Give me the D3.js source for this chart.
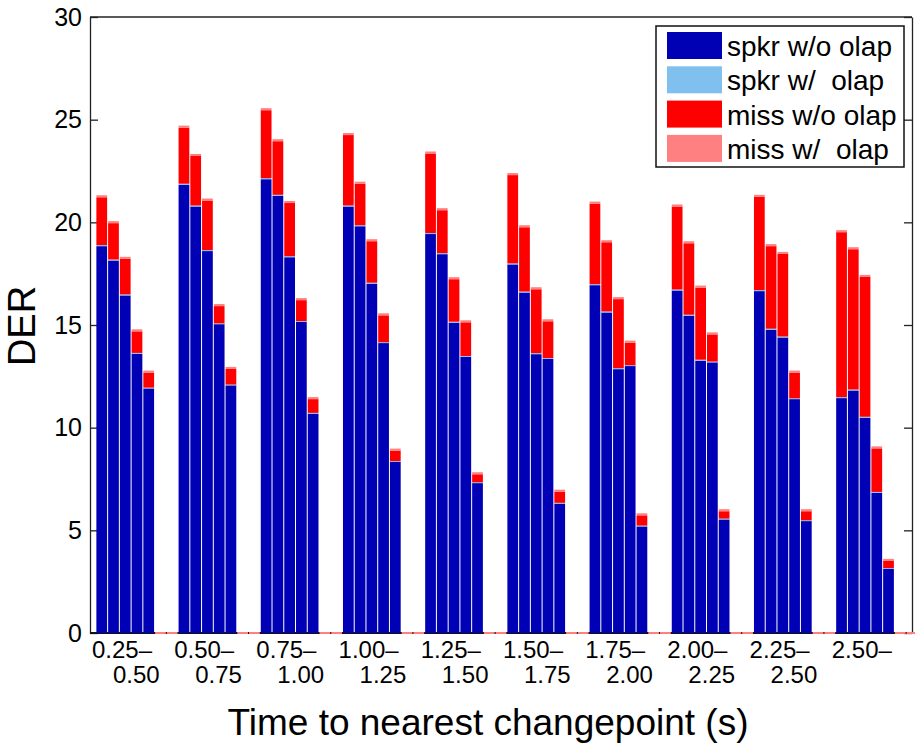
<!DOCTYPE html>
<html>
<head>
<meta charset="utf-8">
<script src="https://cdn.jsdelivr.net/npm/d3@7"></script>
<style>
  body { margin: 0; background: #fff; }
  svg text { font-family: "Liberation Sans", Arial, sans-serif; fill: #000; }
</style>
</head>
<body>
<div id="chart"></div>
<script>
// === Data ===
var groupLine1 = ["0.25–", "0.50–", "0.75–", "1.00–", "1.25–", "1.50–", "1.75–", "2.00–", "2.25–", "2.50–"];
var groupLine2 = ["0.50", "0.75", "1.00", "1.25", "1.50", "1.75", "2.00", "2.25", "2.50", ""];
var seriesNames = ["spkr w/o olap", "spkr w/  olap", "miss w/o olap", "miss w/  olap"];
var seriesColors = ["#0000b4", "#80c0ee", "#ff0000", "#ff8080"];

// one row per group, 5 bars each
var spkrNoOlap = [
    [18.84, 18.14, 16.44, 13.60, 11.91],
    [21.83, 20.77, 18.60, 15.04, 12.06],
    [22.10, 21.29, 18.30, 15.15, 10.68],
    [20.77, 19.81, 17.01, 14.12, 8.33],
    [19.43, 18.45, 15.11, 13.45, 7.30],
    [17.95, 16.58, 13.58, 13.35, 6.30],
    [16.94, 15.61, 12.85, 13.00, 5.19],
    [16.68, 15.45, 13.26, 13.18, 5.53],
    [16.65, 14.77, 14.39, 11.39, 5.45],
    [11.44, 11.81, 10.48, 6.83, 3.12]
];
var spkrOlap = [
    [0.05, 0.05, 0.05, 0.04, 0.04],
    [0.05, 0.05, 0.05, 0.04, 0.04],
    [0.05, 0.05, 0.05, 0.04, 0.04],
    [0.05, 0.05, 0.05, 0.04, 0.04],
    [0.05, 0.05, 0.05, 0.04, 0.04],
    [0.05, 0.05, 0.05, 0.04, 0.04],
    [0.05, 0.05, 0.05, 0.04, 0.04],
    [0.05, 0.05, 0.05, 0.04, 0.04],
    [0.05, 0.05, 0.05, 0.04, 0.04],
    [0.05, 0.05, 0.05, 0.04, 0.04]
];
var missNoOlap = [
    [2.33, 1.77, 1.73, 1.05, 0.73],
    [2.73, 2.41, 2.41, 0.84, 0.76],
    [3.31, 2.61, 2.59, 1.02, 0.67],
    [3.43, 2.02, 2.02, 1.31, 0.51],
    [3.87, 2.09, 2.07, 1.64, 0.39],
    [4.30, 3.13, 3.11, 1.79, 0.54],
    [3.92, 3.37, 3.36, 1.10, 0.50],
    [4.04, 3.48, 3.51, 1.32, 0.36],
    [4.54, 4.02, 4.02, 1.25, 0.44],
    [8.03, 6.83, 6.81, 2.12, 0.35]
];
var missOlap = [
    [0.10, 0.10, 0.10, 0.10, 0.10],
    [0.10, 0.10, 0.10, 0.10, 0.10],
    [0.10, 0.10, 0.10, 0.10, 0.10],
    [0.10, 0.10, 0.10, 0.10, 0.10],
    [0.10, 0.10, 0.10, 0.10, 0.10],
    [0.10, 0.10, 0.10, 0.10, 0.10],
    [0.10, 0.10, 0.10, 0.10, 0.10],
    [0.10, 0.10, 0.10, 0.10, 0.10],
    [0.10, 0.10, 0.10, 0.10, 0.10],
    [0.10, 0.10, 0.10, 0.10, 0.10]
];
var yTicks = [0, 5, 10, 15, 20, 25, 30];
var slotsPerGroup = 7;   // 5 bars + 2 empty slots

// === Build slot table (empty slots are zero bars) ===
var slots = [];
groupLine1.forEach(function (g, gi) {
    for (var b = 0; b < slotsPerGroup; b++) {
        var vals = b < 5
            ? [spkrNoOlap[gi][b], spkrOlap[gi][b], missNoOlap[gi][b], missOlap[gi][b]]
            : [0, 0, 0, 0];
        slots.push({ slot: gi * slotsPerGroup + b, values: vals });
    }
});

// === Chart ===
var W = 915, H = 745;
var plotL = 90, plotR = 912, plotT = 17, plotB = 633;

var svg = d3.select("#chart").append("svg")
    .attr("width", W)
    .attr("height", H);

var x = d3.scaleLinear().domain([-1, slots.length - 1]).range([plotL, plotR]);
var y = d3.scaleLinear().domain([0, 30]).range([plotB, plotT]);
var slotW = x(1) - x(0);

// axes
svg.append("g")
    .attr("transform", "translate(" + plotL + ",0)")
    .call(d3.axisLeft(y).tickValues(yTicks).tickSize(-8).tickSizeOuter(0).tickPadding(8))
    .call(function (g) {
        g.selectAll("text").style("font-size", "25px").attr("fill", "#000");
        g.selectAll("line, path").attr("stroke", "#222").attr("stroke-width", 1.3);
    });
svg.append("g")
    .attr("transform", "translate(" + plotR + ",0)")
    .call(d3.axisRight(y).tickValues(yTicks).tickSize(-8).tickSizeOuter(0).tickFormat(""))
    .call(function (g) {
        g.selectAll("line, path").attr("stroke", "#222").attr("stroke-width", 1.3);
    });
svg.append("line")
    .attr("x1", plotL).attr("x2", plotR).attr("y1", plotT).attr("y2", plotT)
    .attr("stroke", "#222").attr("stroke-width", 1.3);
svg.append("line")
    .attr("x1", plotL).attr("x2", plotR).attr("y1", plotB).attr("y2", plotB)
    .attr("stroke", "#111").attr("stroke-width", 2);

// stacked bars
var barG = svg.append("g");
slots.forEach(function (s) {
    var x0 = x(s.slot) - slotW / 2 + 0.5;
    var total = d3.sum(s.values);
    if (total === 0) {
        // zero-height bar: only its pink edge shows on the baseline
        barG.append("rect")
            .attr("x", x0).attr("width", slotW - 1)
            .attr("y", y(0) - 1).attr("height", 2)
            .attr("fill", seriesColors[3]);
        return;
    }
    var acc = 0;
    s.values.forEach(function (v, k) {
        barG.append("rect")
            .attr("x", x0)
            .attr("width", slotW - 1)
            .attr("y", y(acc + v))
            .attr("height", y(acc) - y(acc + v))
            .attr("fill", seriesColors[k]);
        acc += v;
    });
});

// x tick labels (two lines per group)
groupLine1.forEach(function (t, gi) {
    var cx = x(gi * slotsPerGroup + 3);
    svg.append("text")
        .attr("x", cx - 45).attr("y", 658)
        .style("font-size", "24px")
        .text(t);
    svg.append("text")
        .attr("x", cx - 24).attr("y", 683)
        .style("font-size", "24px")
        .text(groupLine2[gi]);
});

// axis titles
svg.append("text")
    .attr("x", 488).attr("y", 735)
    .attr("text-anchor", "middle")
    .style("font-size", "37px")
    .text("Time to nearest changepoint (s)");
svg.append("text")
    .attr("transform", "translate(35,326) rotate(-90)")
    .attr("text-anchor", "middle")
    .style("font-size", "38px")
    .text("DER");

// legend
var leg = svg.append("g");
leg.append("rect")
    .attr("x", 656).attr("y", 26).attr("width", 248).attr("height", 141)
    .attr("fill", "#fff").attr("stroke", "#111").attr("stroke-width", 1.5);
seriesNames.forEach(function (n, i) {
    leg.append("rect")
        .attr("x", 667).attr("y", 32 + i * 34.3)
        .attr("width", 55).attr("height", 27)
        .attr("fill", seriesColors[i]);
    leg.append("text")
        .attr("x", 727).attr("y", 56 + i * 34.3)
        .style("font-size", "28px")
        .style("white-space", "pre")
        .text(n);
});
</script>
</body>
</html>
